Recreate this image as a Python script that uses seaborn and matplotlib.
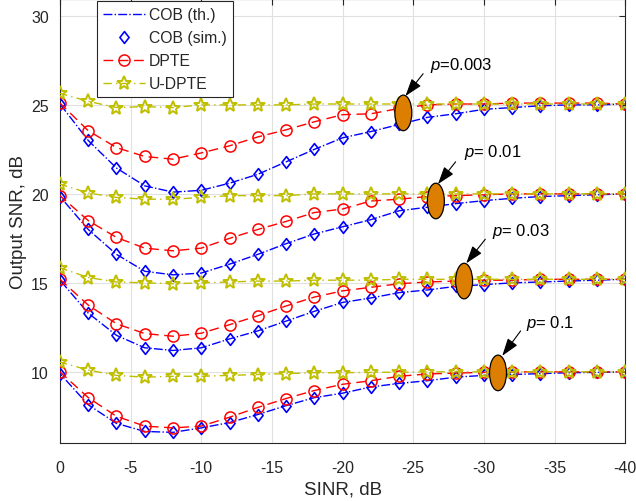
import numpy as np
import pandas as pd
import matplotlib
matplotlib.use("Agg")
import matplotlib.pyplot as plt
import seaborn as sns
from matplotlib.patches import Ellipse
from matplotlib.path import Path

# ---------------- data ----------------
sinr = [0, -2, -4, -6, -8, -10, -12, -14, -16, -18, -20,
        -22, -24, -26, -28, -30, -32, -34, -36, -38, -40]

# p = 0.003
cob_003 = [25.05, 23.0, 21.45, 20.45, 20.1, 20.2, 20.6, 21.1, 21.8, 22.5, 23.15,
           23.5, 23.9, 24.3, 24.5, 24.75, 24.85, 24.95, 25.0, 25.0, 25.05]
dpte_003 = [25.1, 23.55, 22.6, 22.1, 21.95, 22.3, 22.7, 23.2, 23.6, 24.05, 24.45,
            24.5, 24.8, 25.0, 25.05, 25.05, 25.1, 25.1, 25.1, 25.1, 25.05]
udpte_003 = [25.65, 25.2, 24.85, 24.9, 24.85, 25.0, 25.0, 25.0, 25.0, 25.05, 25.05,
             25.05, 25.05, 25.05, 25.05, 25.05, 25.05, 25.05, 25.05, 25.05, 25.05]

# p = 0.01
cob_01 = [19.85, 18.0, 16.6, 15.65, 15.45, 15.55, 16.05, 16.6, 17.2, 17.75, 18.15,
          18.55, 19.05, 19.25, 19.45, 19.62, 19.75, 19.85, 19.9, 19.95, 20.0]
dpte_01 = [19.9, 18.5, 17.55, 16.95, 16.8, 16.95, 17.5, 18.0, 18.45, 18.95, 19.15,
           19.6, 19.7, 19.85, 19.9, 19.95, 20.0, 20.0, 20.0, 20.0, 20.0]
udpte_01 = [20.55, 20.05, 19.8, 19.7, 19.7, 19.8, 19.9, 19.9, 19.9, 20.0, 20.0,
            20.0, 20.0, 20.0, 20.0, 20.0, 20.0, 20.0, 20.0, 20.0, 20.0]

# p = 0.03
cob_03 = [15.15, 13.3, 12.05, 11.35, 11.2, 11.35, 11.85, 12.3, 12.85, 13.4, 13.9,
          14.15, 14.45, 14.6, 14.8, 14.9, 15.0, 15.05, 15.1, 15.15, 15.2]
dpte_03 = [15.2, 13.75, 12.7, 12.15, 12.0, 12.17, 12.65, 13.15, 13.7, 14.2, 14.55,
           14.75, 14.95, 15.05, 15.1, 15.15, 15.15, 15.2, 15.2, 15.2, 15.2]
udpte_03 = [15.85, 15.3, 15.05, 15.0, 14.95, 15.0, 15.05, 15.1, 15.1, 15.15, 15.15,
            15.15, 15.2, 15.2, 15.2, 15.2, 15.2, 15.2, 15.2, 15.2, 15.2]

# p = 0.1
cob_1 = [9.9, 8.15, 7.1, 6.65, 6.6, 6.85, 7.15, 7.6, 8.1, 8.55, 8.8,
         9.15, 9.35, 9.5, 9.7, 9.8, 9.85, 9.9, 9.95, 9.97, 10.0]
dpte_1 = [10.0, 8.55, 7.5, 6.95, 6.85, 6.95, 7.45, 8.0, 8.5, 8.95, 9.3,
          9.5, 9.75, 9.88, 9.93, 9.97, 10.0, 10.0, 10.0, 10.0, 10.0]
udpte_1 = [10.55, 10.1, 9.8, 9.7, 9.75, 9.75, 9.8, 9.85, 9.9, 9.95, 9.95,
           9.97, 9.98, 10.0, 10.0, 10.0, 10.0, 10.0, 10.0, 10.0, 10.0]

cob_series = [cob_003, cob_01, cob_03, cob_1]
dpte_series = [dpte_003, dpte_01, dpte_03, dpte_1]
udpte_series = [udpte_003, udpte_01, udpte_03, udpte_1]

# annotations: label, ellipse centre (x, y), text position, arrow tail, arrow head
p_labels = ["=0.003", "= 0.01", "= 0.03", "= 0.1"]
ell_x = [-24.3, -26.6, -28.6, -31.0]
ell_y = [24.55, 19.6, 15.1, 9.94]
txt_x = [-26.2, -28.6, -30.6, -33.0]
txt_y = [27.25, 22.36, 17.94, 12.8]
tail_x = [-25.7, -28.0, -30.1, -32.6]
tail_y = [26.75, 21.8, 17.45, 12.3]
head_x = [-24.45, -26.75, -28.75, -31.3]
head_y = [25.5, 20.55, 16.1, 10.9]

x_ticks = [0, -5, -10, -15, -20, -25, -30, -35, -40]
y_ticks = [10, 15, 20, 25, 30]

# ---------------- style ----------------
sns.set_theme(style="white")
plt.rcParams["font.family"] = ["Liberation Sans", "DejaVu Sans"]
plt.rcParams["axes.unicode_minus"] = False
plt.rcParams["mathtext.fontset"] = "custom"
plt.rcParams["mathtext.it"] = "Liberation Sans:italic"
plt.rcParams["mathtext.rm"] = "Liberation Sans"

BLUE = (0, 0, 1)
RED = (1, 0, 0)
OLIVE = (0.75, 0.75, 0)
ORANGE = "#DC7F00"
DARK = "#262626"

diamond = Path([(0, 1), (0.78, 0), (0, -1), (-0.78, 0), (0, 1)],
               [Path.MOVETO, Path.LINETO, Path.LINETO, Path.LINETO, Path.CLOSEPOLY])

fig = plt.figure(figsize=(6.36, 5.02), dpi=100)
ax = fig.add_axes([0.0943, 0.1155, 0.8887, 0.8845])

lw = 1.0
for i in range(4):
    first = i == 0
    sns.lineplot(x=sinr, y=cob_series[i], ax=ax, color=BLUE, linestyle="-.",
                 linewidth=lw, label="COB (th.)" if first else None, zorder=3)
    sns.lineplot(x=sinr, y=cob_series[i], ax=ax, color=BLUE, linestyle="none",
                 marker=diamond, markersize=8.5, markerfacecolor="none",
                 markeredgecolor=BLUE, markeredgewidth=1.2,
                 label="COB (sim.)" if first else None, zorder=3)
    sns.lineplot(x=sinr, y=dpte_series[i], ax=ax, color=RED, linestyle=(0, (7, 4)),
                 linewidth=lw, marker="o", markersize=8, markerfacecolor="none",
                 markeredgecolor=RED, markeredgewidth=1.1,
                 label="DPTE" if first else None, zorder=4)
    sns.lineplot(x=sinr, y=udpte_series[i], ax=ax, color=OLIVE, linestyle=(0, (6, 3, 1, 3)),
                 linewidth=lw, marker="*", markersize=10.5, markerfacecolor="none",
                 markeredgecolor=OLIVE, markeredgewidth=1.4,
                 label="U-DPTE" if first else None, zorder=5)

for i in range(4):
    ax.add_patch(Ellipse((ell_x[i], ell_y[i]), width=1.2, height=2.0,
                         facecolor=ORANGE, edgecolor="black", linewidth=0.9, zorder=6))
    ax.annotate("", xy=(head_x[i], head_y[i]), xytext=(tail_x[i], tail_y[i]),
                arrowprops=dict(arrowstyle="-|>,head_length=0.9,head_width=0.3",
                                color="black", lw=0.8, shrinkA=0, shrinkB=0),
                zorder=7)
    ax.text(txt_x[i], txt_y[i], "$p$" + p_labels[i], fontsize=12,
            ha="left", va="center", color="black", zorder=7)

ax.set_xlim(0, -40)
ax.set_ylim(6, 30.95)
ax.set_xticks(x_ticks)
ax.set_yticks(y_ticks)
ax.set_xticklabels([str(v) for v in x_ticks])
ax.set_yticklabels([str(v) for v in y_ticks])
ax.grid(True, color="#e0e0e0", linewidth=0.8, zorder=0)
ax.set_axisbelow(True)
ax.tick_params(direction="in", length=4, width=0.8, colors=DARK, labelsize=11.5,
               top=True, right=True)
ax.tick_params(axis="x", pad=12)
ax.tick_params(axis="y", pad=8)
for s in ax.spines.values():
    s.set_color(DARK)
    s.set_linewidth(0.8)
ax.set_xlabel("SINR, dB", fontsize=13.5, color=DARK, labelpad=4)
ax.set_ylabel("Output SNR, dB", fontsize=13.5, color=DARK, labelpad=3)

leg = ax.legend(loc="upper left", bbox_to_anchor=(0.065, 0.995), fontsize=11.3,
                frameon=True, fancybox=False, framealpha=1, edgecolor=DARK,
                handlelength=2.7, handletextpad=0.2, borderpad=0.4,
                labelspacing=0.5, borderaxespad=0)
leg.get_frame().set_linewidth(0.8)

fig.savefig("out.png", dpi=100)
